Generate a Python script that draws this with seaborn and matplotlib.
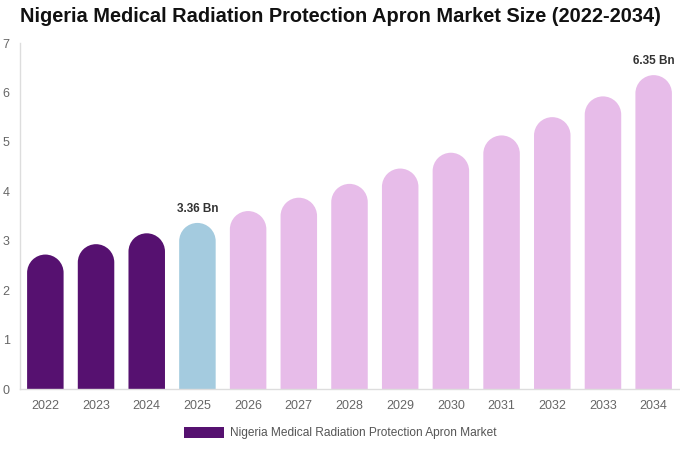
import matplotlib
matplotlib.use("Agg")
import matplotlib.pyplot as plt
import seaborn as sns
import pandas as pd
import numpy as np
from matplotlib.path import Path
from matplotlib.patches import PathPatch, Patch

# data
years = ["2022", "2023", "2024", "2025", "2026", "2027", "2028",
         "2029", "2030", "2031", "2032", "2033", "2034"]
values = [2.72, 2.93, 3.15, 3.36, 3.60, 3.87, 4.15, 4.46, 4.78, 5.13, 5.50, 5.92, 6.35]
labels = {"2025": "3.36 Bn", "2034": "6.35 Bn"}
series_name = "Nigeria Medical Radiation Protection Apron Market"

DARK = "#561170"
BLUE = "#A4CBDF"
PINK = "#E7BCE9"
colors = [DARK] * 3 + [BLUE] + [PINK] * 9

sns.set_theme(style="white")
plt.rcParams["font.family"] = ["Liberation Sans", "DejaVu Sans"]

df = pd.DataFrame({"year": years, "value": values})

fig = plt.figure(figsize=(6.8, 4.5), dpi=100)
ax = fig.add_axes([20 / 680, 61 / 450, 659 / 680, 346 / 450])

sns.barplot(data=df, x="year", y="value", hue="year", palette=colors,
            width=0.72, legend=False, ax=ax, saturation=1)

ax.set_xlim(-0.5, len(years) - 0.5)
ax.set_ylim(0, 7)

# rounded tops: swap each seaborn bar for one outline with a half-circle cap
fig.canvas.draw()
px_per_unit_y = ax.transData.transform((0, 1))[1] - ax.transData.transform((0, 0))[1]
px_per_unit_x = ax.transData.transform((1, 0))[0] - ax.transData.transform((0, 0))[0]
arc = Path.arc(0, 180)
for bar in list(ax.patches):
    x0 = bar.get_x()
    w = bar.get_width()
    h = bar.get_height()
    r = (w * px_per_unit_x / 2) / px_per_unit_y
    yc = h - r
    cx = x0 + w / 2
    arc_v = arc.vertices * np.array([w / 2, r]) + np.array([cx, yc])
    arc_c = arc.codes.copy()
    arc_c[0] = Path.LINETO
    verts = np.vstack([[[x0, 0], [x0 + w, 0], [x0 + w, yc]], arc_v, [[x0, yc], [x0, 0]]])
    codes = np.concatenate([[Path.MOVETO, Path.LINETO, Path.LINETO], arc_c,
                            [Path.LINETO, Path.CLOSEPOLY]])
    ax.add_patch(PathPatch(Path(verts, codes), facecolor=bar.get_facecolor(),
                           edgecolor="none"))
    bar.set_visible(False)

for i, (yr, v) in enumerate(zip(years, values)):
    if yr in labels:
        ax.annotate(labels[yr], (i, v), xytext=(0, 6), textcoords="offset points",
                    ha="center", va="bottom", fontsize=8.5, fontweight="bold",
                    color="#333333")

ax.set_xlabel("")
ax.set_ylabel("")
ax.set_yticks(range(0, 8))
ax.tick_params(axis="both", length=0, labelsize=9, labelcolor="#666666")
ax.tick_params(axis="y", pad=7.5)
ax.tick_params(axis="x", pad=8)
for side in ["top", "right"]:
    ax.spines[side].set_visible(False)
for side in ["left", "bottom"]:
    ax.spines[side].set_color("#dddddd")
    ax.spines[side].set_linewidth(1)

fig.suptitle("Nigeria Medical Radiation Protection Apron Market Size (2022-2034)",
             x=0.5, y=0.985, fontsize=14.4, fontweight="bold", color="#111111")

handle = Patch(facecolor=DARK, edgecolor="none", label=series_name)
fig.legend(handles=[handle], loc="center", bbox_to_anchor=(0.5, 0.037),
           frameon=False, fontsize=8.6, labelcolor="#555555",
           handlelength=3.4, handleheight=0.95, handletextpad=0.45)

fig.savefig("out.png", dpi=100)
